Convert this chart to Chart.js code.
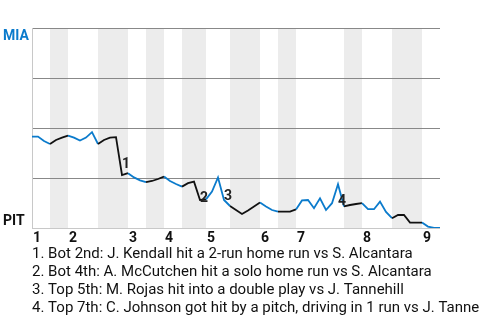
<!DOCTYPE html>
<html>
<head>
<meta charset="utf-8">
<script src="https://cdn.jsdelivr.net/npm/chart.js@4/dist/chart.umd.min.js"></script>
<style>
  html, body { margin: 0; padding: 0; background: #fff; }
  #wp-chart { display: block; }
</style>
</head>
<body>
<canvas id="wp-chart" width="480" height="320"></canvas>
<script>
// MIA win probability (%) after each play, play 0 = first pitch
const winProb = [
    45.7, 45.7, 43.5, 42, 44, 45.2, 46.2, 45.2, 43.7, 45.2,
    47.9, 42, 44, 45.2, 45.4, 26.5, 27.4, 25.3, 23.8, 22.9,
    23.5, 24.5, 25.7, 23.5, 22, 20.7, 22.4, 23.2, 14, 14.3,
    18.2, 25.3, 14, 11, 9, 7, 8.8, 10.8, 12.7, 10.8,
    9, 8.2, 8.2, 8.2, 9.3, 13.8, 14, 9.9, 14.8, 9,
    12.4, 21.9, 10.8, 11.5, 12, 12.4, 9.4, 9.4, 13.2, 8,
    4.9, 6.5, 6.5, 2.7, 2.7, 2.7, 0.7, 0, 0
];
// play index where each half inning starts (top 1 .. top 9, then end of game)
const halfStarts = [0, 3, 6, 11, 16, 19, 22, 25, 29, 33, 38, 41, 44, 52, 55, 60, 65, 68];
const inningLabels = ['1', '2', '3', '4', '5', '6', '7', '8', '9'];
// key plays: index of the play after the event, and its marker
const eventPlays = [15, 28, 32, 51];
const eventMarks = ['1', '2', '3', '4'];
const eventNotes = [
    '1. Bot 2nd: J. Kendall hit a 2-run home run vs S. Alcantara',
    '2. Bot 4th: A. McCutchen hit a solo home run vs S. Alcantara',
    '3. Top 5th: M. Rojas hit into a double play vs J. Tannehill',
    '4. Top 7th: C. Johnson got hit by a pitch, driving in 1 run vs J. Tannehill'
];
const awayTeam = 'MIA';
const homeTeam = 'PIT';

const BLUE = '#0b7bcc';
const BAND = '#ececec';
const FONT = 'Roboto, "Noto Sans", sans-serif';

function halfOf(k) {
    let h = 0;
    while (h + 1 < halfStarts.length - 1 && halfStarts[h + 1] <= k) h++;
    return h;
}

const decorPlugin = {
    id: 'decor',
    beforeDraw(chart) {
        const { ctx, chartArea: a, scales: { x } } = chart;
        ctx.save();
        ctx.fillStyle = BAND;
        for (let h = 1; h < halfStarts.length - 1; h += 2) {
            const x0 = x.getPixelForValue(halfStarts[h]);
            const x1 = x.getPixelForValue(halfStarts[h + 1]);
            ctx.fillRect(x0, a.top, x1 - x0, a.bottom - a.top);
        }
        ctx.restore();
    },
    afterDatasetsDraw(chart) {
        const { ctx, chartArea: a, scales: { x, y } } = chart;
        ctx.save();
        // event markers next to the middle of the swing
        ctx.font = 'bold 14px ' + FONT;
        ctx.fillStyle = '#222';
        ctx.textBaseline = 'top';
        ctx.textAlign = 'left';
        eventPlays.forEach((p, i) => {
            const mx = (x.getPixelForValue(p - 1) + x.getPixelForValue(p)) / 2;
            const my = (y.getPixelForValue(winProb[p - 1]) + y.getPixelForValue(winProb[p])) / 2;
            ctx.fillText(eventMarks[i], mx + 3, my + 1);
        });

        // inning numbers under the top halves
        ctx.fillStyle = '#111';
        inningLabels.forEach((lab, i) => {
            ctx.fillText(lab, x.getPixelForValue(halfStarts[i * 2]) + 1, a.bottom + 3);
        });

        // team names
        ctx.textBaseline = 'alphabetic';
        ctx.fillStyle = BLUE;
        ctx.fillText(awayTeam, 3, a.top + 12);
        ctx.fillStyle = '#111';
        ctx.fillText(homeTeam, 3, a.bottom - 3);

        // notes
        ctx.font = '15px ' + FONT;
        ctx.fillStyle = '#111';
        eventNotes.forEach((t, i) => {
            ctx.fillText(t, 32, a.bottom + 30 + i * 18);
        });
        ctx.restore();
    }
};

new Chart(document.getElementById('wp-chart'), {
    type: 'line',
    data: {
        datasets: [{
            data: winProb.map((v, i) => ({ x: i, y: v })),
            borderWidth: 1.8,
            borderColor: BLUE,
            pointRadius: 0,
            tension: 0,
            segment: {
                borderColor: c => halfOf(c.p0DataIndex) % 2 ? '#111' : BLUE
            }
        }]
    },
    options: {
        responsive: false,
        animation: false,
        layout: { padding: { left: 32, top: 28, right: 40, bottom: 92 } },
        plugins: { legend: { display: false }, tooltip: { enabled: false } },
        scales: {
            x: {
                type: 'linear',
                min: 0,
                max: halfStarts[halfStarts.length - 1],
                display: false
            },
            y: {
                min: 0,
                max: 100,
                ticks: { display: false, stepSize: 25 },
                grid: {
                    drawTicks: false,
                    tickLength: 0,
                    lineWidth: 1,
                    color: c => c.tick.value === 0 ? '#c8c8c8' : '#888'
                },
                border: { display: true, color: '#c8c8c8' }
            }
        }
    },
    plugins: [decorPlugin]
});
</script>
</body>
</html>
